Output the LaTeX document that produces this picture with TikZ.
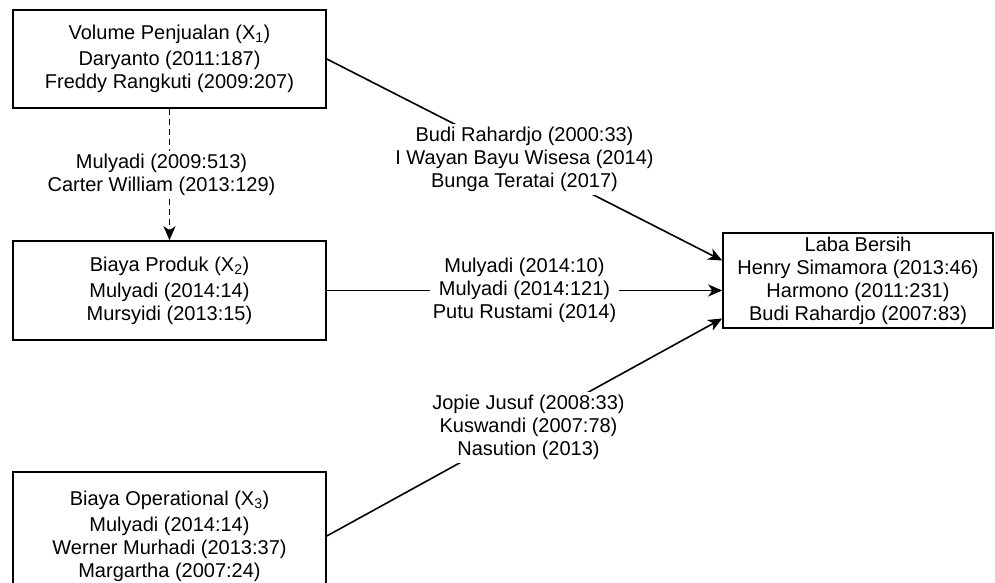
\documentclass[tikz,border=0pt]{standalone}
\usepackage{fontspec}
\setmainfont{Liberation Sans}
\usepackage{xcolor}
\usepackage{tikz}
\usetikzlibrary{arrows.meta}

\begin{document}
\begin{tikzpicture}[
    x=1pt, y=-1pt,
    font=\fontsize{20}{23}\selectfont,
    every node/.style={align=center},
    box/.style={
        rectangle,
        draw=black,
        line width=1.6pt,
        minimum width=313pt,
        minimum height=98pt,
        inner xsep=4pt,
        inner ysep=2pt
    },
    line/.style={draw, line width=1.6pt, -{Stealth[length=14pt,width=12pt,inset=4pt]}},
    dashline/.style={line, dash pattern=on 6pt off 4pt},
    cite/.style={fill=white, inner sep=3pt},
]

\useasboundingbox (0,0) rectangle (995,583);

% Input variables
\node[box] (volume) at (169.5,59) {Volume Penjualan (X\textsubscript{1})\\[3pt]Daryanto (2011:187)\\Freddy Rangkuti (2009:207)};
\node[box, minimum height=99pt] (produk) at (169.5,290.5) {Biaya Produk (X\textsubscript{2})\\[3pt]Mulyadi (2014:14)\\Mursyidi (2013:15)};
\node[box, minimum height=128pt] (operasional) at (169.5,536) {Biaya Operational (X\textsubscript{3})\\[3pt]Mulyadi (2014:14)\\Werner Murhadi (2013:37)\\Margartha (2007:24)};

% Output variable
\node[box, minimum width=270pt, minimum height=95pt] (laba) at (858,280.5) {Laba Bersih\\Henry Simamora (2013:46)\\Harmono (2011:231)\\Budi Rahardjo (2007:83)};

% Connections
\draw[dashline] (volume.south) -- node[cite, xshift=-8pt] {Mulyadi (2009:513)\\Carter William (2013:129)} (produk.north);

\draw[line] (volume.east) -- node[cite] {Budi Rahardjo (2000:33)\\I Wayan Bayu Wisesa (2014)\\Bunga Teratai (2017)} ([yshift=20pt]laba.west);
\draw[line] (produk.east) -- node[cite] {Mulyadi (2014:10)\\Mulyadi (2014:121)\\Putu Rustami (2014)} (produk.east -| laba.west);
\draw[line] (operasional.east) -- node[cite, xshift=4pt] {Jopie Jusuf (2008:33)\\Kuswandi (2007:78)\\Nasution (2013)} ([yshift=-38pt]laba.west);

\end{tikzpicture}
\end{document}
